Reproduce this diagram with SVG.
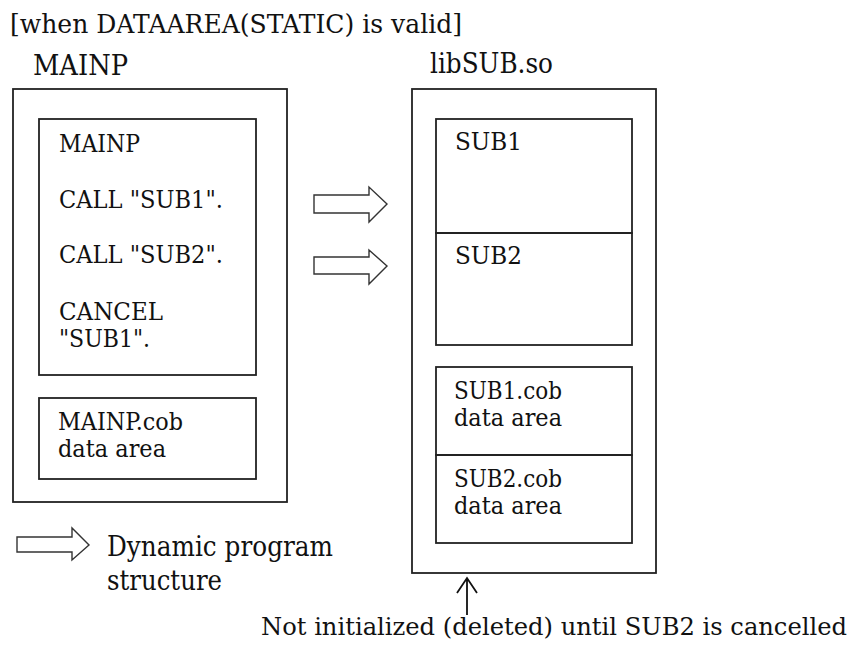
<svg xmlns="http://www.w3.org/2000/svg" width="862" height="650" viewBox="0 0 862 650">
<style>
.box{fill:none;stroke:#222;stroke-width:1.8}
.t{font-family:"DejaVu Serif","Liberation Serif","Times New Roman",serif;fill:#111}
.lbl{font-size:27px}
.in{font-size:24px}
.arr{fill:#fff;stroke:#333;stroke-width:1.4;stroke-linejoin:miter}
.ln{stroke:#111;stroke-width:1.8;fill:none}
</style>
<rect width="862" height="650" fill="#fff"/>
<text class="t" x="10" y="33" font-size="26" textLength="452" lengthAdjust="spacingAndGlyphs">[when DATAAREA(STATIC) is valid]</text>
<g id="mainp">
<text class="t lbl" x="33" y="75" textLength="95" lengthAdjust="spacingAndGlyphs">MAINP</text>
<rect class="box" x="13" y="89" width="274" height="413"/>
</g>
<g id="mainp-code">
<rect class="box" x="39" y="119" width="217" height="256"/>
<text class="t in" x="59" y="152" textLength="81" lengthAdjust="spacingAndGlyphs">MAINP</text>
<text class="t in" x="59" y="208" textLength="164" lengthAdjust="spacingAndGlyphs">CALL "SUB1".</text>
<text class="t in" x="59" y="263" textLength="164" lengthAdjust="spacingAndGlyphs">CALL "SUB2".</text>
<text class="t in" x="59" y="320" textLength="104" lengthAdjust="spacingAndGlyphs">CANCEL</text>
<text class="t in" x="59" y="347" textLength="91" lengthAdjust="spacingAndGlyphs">"SUB1".</text>
</g>
<g id="mainp-data">
<rect class="box" x="39" y="398" width="217" height="81"/>
<text class="t in" x="58" y="430" textLength="125" lengthAdjust="spacingAndGlyphs">MAINP.cob</text>
<text class="t in" x="58" y="457" textLength="108" lengthAdjust="spacingAndGlyphs">data  area</text>
</g>
<g id="libsub">
<text class="t lbl" x="430" y="73" textLength="123" lengthAdjust="spacingAndGlyphs">libSUB.so</text>
<rect class="box" x="412" y="89" width="244" height="484"/>
</g>
<g id="sub1">
<rect class="box" x="436" y="119" width="196" height="114"/>
<text class="t in" x="455" y="150" textLength="67" lengthAdjust="spacingAndGlyphs">SUB1</text>
</g>
<g id="sub2">
<rect class="box" x="436" y="233" width="196" height="112"/>
<text class="t in" x="455" y="264" textLength="67" lengthAdjust="spacingAndGlyphs">SUB2</text>
</g>
<g id="sub1-data">
<rect class="box" x="436" y="367" width="196" height="88"/>
<text class="t in" x="454" y="399" textLength="108" lengthAdjust="spacingAndGlyphs">SUB1.cob</text>
<text class="t in" x="454" y="426" textLength="108" lengthAdjust="spacingAndGlyphs">data  area</text>
</g>
<g id="sub2-data">
<rect class="box" x="436" y="455" width="196" height="88"/>
<text class="t in" x="454" y="487" textLength="108" lengthAdjust="spacingAndGlyphs">SUB2.cob</text>
<text class="t in" x="454" y="514" textLength="108" lengthAdjust="spacingAndGlyphs">data  area</text>
</g>
<g id="legend">
<path class="arr" d="M17,537 H72 V528 L89,545 L72,560 V552 H17 Z"/>
<text class="t" x="107" y="556" font-size="27" textLength="226" lengthAdjust="spacingAndGlyphs">Dynamic program</text>
<text class="t" x="107" y="590" font-size="27" textLength="115" lengthAdjust="spacingAndGlyphs">structure</text>
</g>
<g id="note">
<text class="t" x="261" y="635" font-size="24" textLength="586" lengthAdjust="spacingAndGlyphs">Not initialized (deleted) until SUB2 is cancelled</text>
</g>
<g id="connectors">
<path class="arr" d="M314,195 H369 V187 L387,204 L369,222 V213 H314 Z"/>
<path class="arr" d="M314,257 H369 V250 L387,266 L369,284 V274 H314 Z"/>
<path class="ln" d="M467,615 V578 M457,593 L467,578 L477,593"/>
</g>
</svg>
